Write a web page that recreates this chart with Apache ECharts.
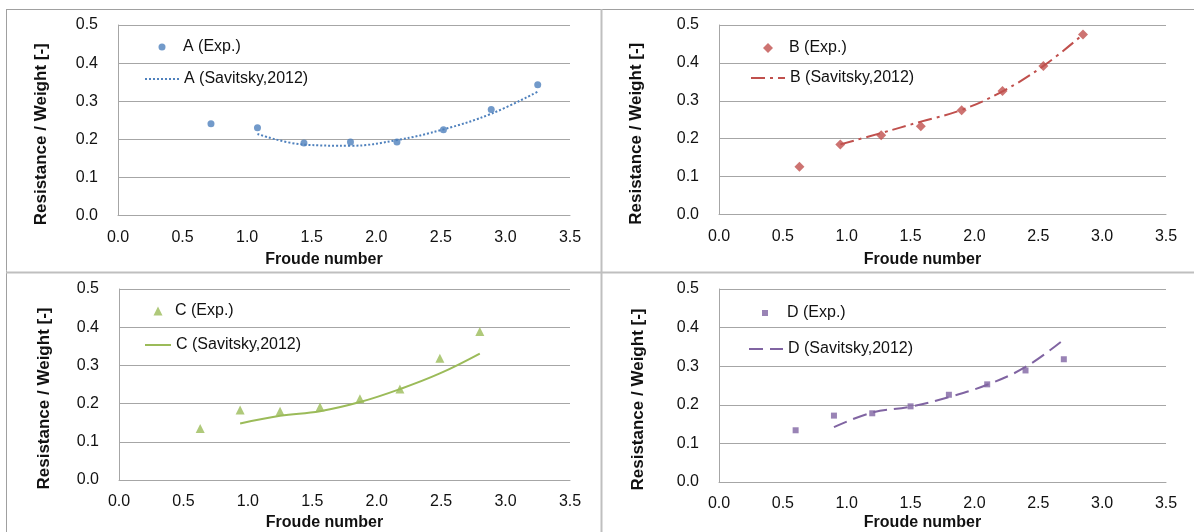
<!DOCTYPE html>
<html>
<head>
<meta charset="utf-8">
<title>Resistance / Weight vs Froude number</title>
<script src="https://cdn.jsdelivr.net/npm/echarts@6/dist/echarts.min.js"></script>
<style>
  html, body { margin: 0; padding: 0; background: #fff; }
  #chart { width: 1194px; height: 532px; }
</style>
</head>
<body>
<div id="chart"></div>
<script>
// values
const froudeA = [0.72, 1.08, 1.44, 1.80, 2.16, 2.52, 2.89, 3.25];
const expA = [0.241, 0.230, 0.190, 0.193, 0.193, 0.225, 0.278, 0.343];
const savA = [null, 0.214, 0.186, 0.183, 0.198, 0.226, 0.267, 0.325];

const froudeB = [0.63, 0.95, 1.27, 1.58, 1.90, 2.22, 2.54, 2.85];
const expB = [0.126, 0.185, 0.209, 0.233, 0.275, 0.326, 0.392, 0.475];
const savB = [null, 0.185, 0.215, 0.245, 0.276, 0.325, 0.392, 0.475];

const froudeC = [0.63, 0.94, 1.25, 1.56, 1.87, 2.18, 2.49, 2.80];
const expC = [0.135, 0.183, 0.180, 0.191, 0.213, 0.238, 0.319, 0.389];
const savC = [null, 0.148, 0.168, 0.180, 0.204, 0.238, 0.279, 0.331];

const froudeD = [0.60, 0.90, 1.20, 1.50, 1.80, 2.10, 2.40, 2.70];
const expD = [0.134, 0.172, 0.178, 0.196, 0.226, 0.253, 0.289, 0.318];
const savD = [null, 0.142, 0.180, 0.195, 0.220, 0.252, 0.298, 0.369];

const xTicks = { min: 0, max: 3.5, interval: 0.5 };
const yTicks = { min: 0, max: 0.5, interval: 0.1 };

const FONT = 'Liberation Sans, Arial, sans-serif';
const GRID_COLOR = '#a6a6a6';

// legend: marker centre (mx, my), line x1..x2 at ly, text start tx
const panels = [
  { key: 'A', color: '#4f81bd', symbol: 'circle', size: 7, dash: [2, 2], x: froudeA, exp: expA, sav: savA,
    grid: { left: 118, right: 624, top: 25, bottom: 316.5 }, yGap: 68, xGap: 36,
    leg: { mx: 162, my: 47, x1: 144, x2: 178, ly: 79, tx: 183 } },
  { key: 'B', color: '#c0504d', symbol: 'diamond', size: 10, dash: [14, 5, 3, 5], x: froudeB, exp: expB, sav: savB,
    grid: { left: 719, right: 28, top: 25, bottom: 317.5 }, yGap: 74, xGap: 37,
    leg: { mx: 768, my: 48, x1: 750, x2: 784, ly: 78, tx: 789 } },
  { key: 'C', color: '#9bbb59', symbol: 'triangle', size: 9, dash: 'solid', x: froudeC, exp: expC, sav: savC,
    grid: { left: 119, right: 624, top: 289, bottom: 50 }, yGap: 66, xGap: 35,
    leg: { mx: 158, my: 311, x1: 144, x2: 170, ly: 345, tx: 175 } },
  { key: 'D', color: '#8064a2', symbol: 'rect', size: 6, dash: [14, 7], x: froudeD, exp: expD, sav: savD,
    grid: { left: 719, right: 28, top: 289, bottom: 47 }, yGap: 72, xGap: 33,
    leg: { mx: 765, my: 313, x1: 748, x2: 782, ly: 349, tx: 787 } }
];

const pair = (xs, ys) => xs.map((x, i) => [x, ys[i]]).filter(p => p[1] != null);

const grid = [], xAxis = [], yAxis = [], series = [], legend = [];

panels.forEach((p, i) => {
  grid.push(Object.assign({ containLabel: false }, p.grid));
  xAxis.push({
    type: 'value', gridIndex: i, min: xTicks.min, max: xTicks.max, interval: xTicks.interval,
    name: 'Froude number', nameLocation: 'middle', nameGap: p.xGap,
    nameTextStyle: { fontFamily: FONT, fontSize: 16, fontWeight: 'bold', color: '#111', padding: [0, 40, 0, 0] },
    axisLine: { show: true, lineStyle: { color: GRID_COLOR, width: 1 } },
    axisTick: { show: false },
    splitLine: { show: false },
    axisLabel: { fontFamily: FONT, fontSize: 16, color: '#111', margin: 14, formatter: v => v.toFixed(1) }
  });
  yAxis.push({
    type: 'value', gridIndex: i, min: yTicks.min, max: yTicks.max, interval: yTicks.interval,
    name: 'Resistance / Weight [-]', nameLocation: 'middle', nameGap: p.yGap,
    nameTextStyle: { fontFamily: FONT, fontSize: 17, fontWeight: 'bold', color: '#111', padding: [0, 28, 0, 0] },
    axisLine: { show: true, lineStyle: { color: GRID_COLOR, width: 1 } },
    axisTick: { show: false },
    splitLine: { show: true, lineStyle: { color: GRID_COLOR, width: 1 } },
    axisLabel: { fontFamily: FONT, fontSize: 16, color: '#111', margin: 20, formatter: v => v.toFixed(1) }
  });
  const expName = p.key + ' (Exp.)';
  const savName = p.key + ' (Savitsky,2012)';
  series.push({
    name: expName, type: 'scatter', xAxisIndex: i, yAxisIndex: i,
    symbol: p.symbol, symbolSize: p.size,
    itemStyle: { color: p.color },
    data: pair(p.x, p.exp)
  });
  series.push({
    name: savName, type: 'line', xAxisIndex: i, yAxisIndex: i,
    showSymbol: false, symbol: 'none', smooth: 0.4,
    lineStyle: { color: p.color, width: 2, type: p.dash },
    itemStyle: { color: p.color },
    data: pair(p.x, p.sav)
  });
  const L = p.leg;
  legend.push({
    data: [{ name: expName, icon: p.symbol }], padding: 0,
    left: L.mx - p.size / 2, top: L.my - 8,
    itemWidth: p.size, itemHeight: p.size, selectedMode: false,
    textStyle: { fontFamily: FONT, fontSize: 16, color: '#111', lineHeight: 16,
      padding: [0, 0, 0, Math.max(0, L.tx - (L.mx + p.size / 2) - 5)] }
  });
  legend.push({
    data: [savName], padding: 0,
    left: L.x1, top: L.ly - 8,
    itemWidth: L.x2 - L.x1, itemHeight: 10, selectedMode: false,
    itemStyle: { opacity: 0 },
    textStyle: { fontFamily: FONT, fontSize: 16, color: '#111', lineHeight: 16,
      padding: [0, 0, 0, Math.max(0, L.tx - L.x2 - 5)] }
  });
});

const frame = { stroke: '#a0a0a0', lineWidth: 1 };
const divider = { stroke: '#bfbfbf', lineWidth: 2 };

const chart = echarts.init(document.getElementById('chart'));
chart.setOption({
  animation: false,
  backgroundColor: '#fff',
  grid, xAxis, yAxis, series, legend,
  graphic: [
    { type: 'line', shape: { x1: 6.5, y1: 9, x2: 6.5, y2: 532 }, style: frame, silent: true },
    { type: 'line', shape: { x1: 6, y1: 9.5, x2: 1194, y2: 9.5 }, style: frame, silent: true },
    { type: 'line', shape: { x1: 601.5, y1: 9, x2: 601.5, y2: 532 }, style: divider, silent: true },
    { type: 'line', shape: { x1: 6, y1: 272.5, x2: 1194, y2: 272.5 }, style: divider, silent: true }
  ]
});
window.addEventListener('resize', () => chart.resize());
</script>
</body>
</html>
